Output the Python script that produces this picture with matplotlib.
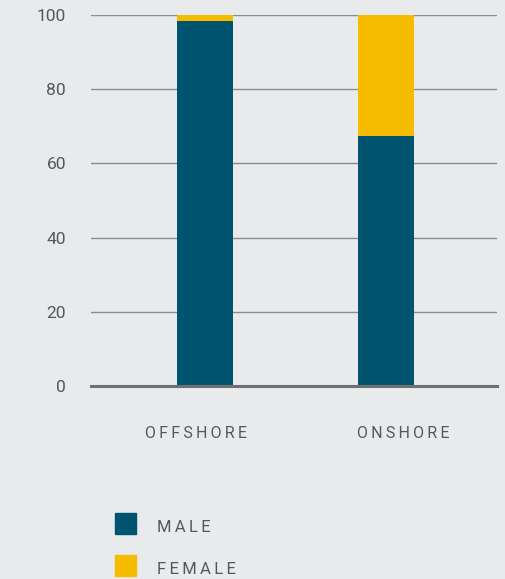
import matplotlib
matplotlib.use('Agg')
import matplotlib.pyplot as plt
from matplotlib.patches import Rectangle

categories = ['OFFSHORE', 'ONSHORE']
male = [98.5, 67.4]
female = [1.5, 32.6]
yticks = [0, 20, 40, 60, 80, 100]
legend_labels = ['MALE', 'FEMALE']

BG = '#e9eaec'
C_MALE = '#00546f'
C_FEMALE = '#f5bc00'
TXT = '#54585c'

plt.rcParams['font.family'] = ['Roboto', 'DejaVu Sans']


def spaced(s):
    # widen letter spacing with thin spaces
    return '\u2009'.join(s)


W, H = 506, 579
fig = plt.figure(figsize=(W / 100, H / 100), dpi=100, facecolor=BG)
ax = fig.add_axes([91 / W, 1 - 386 / H, 406 / W, 371 / H], facecolor=BG)

x = list(range(len(categories)))
ax.bar(x, male, width=0.31, color=C_MALE, zorder=3)
ax.bar(x, female, width=0.31, bottom=male, color=C_FEMALE, zorder=3)

ax.set_xlim(-0.63, 1.613)
ax.set_ylim(0, 100)
ax.set_yticks(yticks)
ax.set_yticklabels([str(v) for v in yticks], fontsize=12.5, color=TXT)
ax.yaxis.grid(True, color='#8a8c90', linewidth=1, zorder=0)
ax.axhline(0, color='#6e7074', linewidth=2.2, zorder=4, clip_on=False)
ax.tick_params(axis='y', length=0, pad=18)
ax.tick_params(axis='x', length=0, pad=29)

# labels in the original sit a little off the bar centres
label_shift = [-0.052, 0.094]
ax.set_xticks([xi + d for xi, d in zip(x, label_shift)])
ax.set_xticklabels([spaced(c) for c in categories], fontsize=11.5, color=TXT)
for s in ax.spines.values():
    s.set_visible(False)

# legend drawn by hand to match placement
colors = [C_MALE, C_FEMALE]
for i, (lab, col) in enumerate(zip(legend_labels, colors)):
    top = 513 + i * 42
    fig.patches.append(Rectangle((115 / W, 1 - (top + 21) / H), 21 / W, 21 / H,
                                 transform=fig.transFigure, color=col))
    fig.text(157 / W, 1 - (top + 14) / H, spaced(lab), fontsize=12, color=TXT,
             va='center', ha='left')

fig.savefig('out.png', dpi=100, facecolor=BG)
